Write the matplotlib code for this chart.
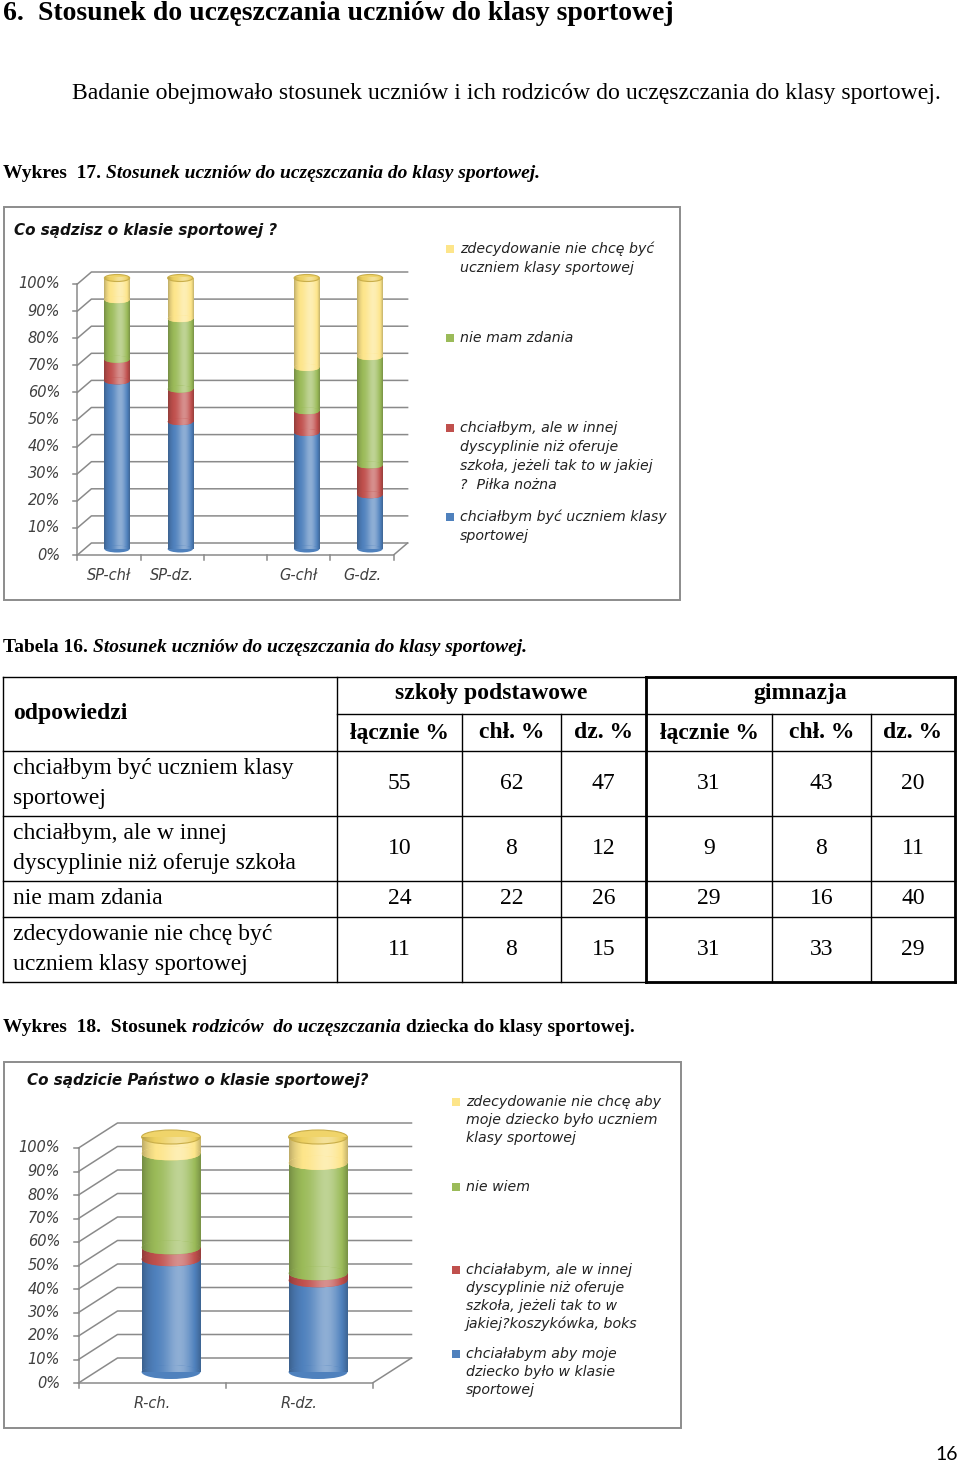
import numpy as np
import matplotlib
matplotlib.use("Agg")
import matplotlib.pyplot as plt
from matplotlib.patches import Rectangle, Ellipse

SERIF = "Liberation Serif"
CHART_FONT = "DejaVu Sans"

# --- data ---
chart1_groups = ["SP-chł", "SP-dz.", "", "G-chł", "G-dz."]
chart1_blue = [62, 47, None, 43, 20]
chart1_red = [8, 12, None, 8, 11]
chart1_green = [22, 26, None, 16, 40]
chart1_yellow = [8, 15, None, 33, 29]
chart1_legend = ["zdecydowanie nie chcę być\nuczniem klasy sportowej",
                 "nie mam zdania",
                 "chciałbym, ale w innej\ndyscyplinie niż oferuje\nszkoła, jeżeli tak to w jakiej\n?  Piłka nożna",
                 "chciałbym być uczniem klasy\nsportowej"]

chart2_groups = ["R-ch.", "R-dz."]
chart2_blue = [48, 39]
chart2_red = [5, 3]
chart2_green = [40, 47]
chart2_yellow = [7, 11]
chart2_legend = ["zdecydowanie nie chcę aby\nmoje dziecko było uczniem\nklasy sportowej",
                 "nie wiem",
                 "chciałabym, ale w innej\ndyscyplinie niż oferuje\nszkoła, jeżeli tak to w\njakiej?koszykówka, boks",
                 "chciałabym aby moje\ndziecko było w klasie\nsportowej"]

table_rows = ["chciałbym być uczniem klasy\nsportowej",
              "chciałbym, ale w innej\ndyscyplinie niż oferuje szkoła",
              "nie mam zdania",
              "zdecydowanie nie chcę być\nuczniem klasy sportowej"]
table_sub = ["łącznie %", "chł. %", "dz. %", "łącznie %", "chł. %", "dz. %"]
table_vals = [[55, 62, 47, 31, 43, 20],
              [10, 8, 12, 9, 8, 11],
              [24, 22, 26, 29, 16, 40],
              [11, 8, 15, 31, 33, 29]]

colors = {"blue": "#4F81BD", "red": "#C0504D", "green": "#9BBB59", "yellow": "#FDE58A"}

W, H = 960, 1463
fig = plt.figure(figsize=(W / 100, H / 100), dpi=100)
page = fig.add_axes([0, 0, 1, 1])
page.set_xlim(0, W)
page.set_ylim(H, 0)
page.axis("off")
renderer = fig.canvas.get_renderer()


def runs(x, y, parts, size, gap=5):
    # parts: list of (text, italic) drawn one after another in bold serif
    for txt, ital in parts:
        t = page.text(x, y, txt, fontsize=size, fontweight="bold",
                      style="italic" if ital else "normal", family=SERIF, va="center")
        bb = t.get_window_extent(renderer)
        x += bb.width + gap


def shade_colors(base, n=80):
    rgb = np.array(matplotlib.colors.to_rgb(base))
    t = np.linspace(0, 1, n)
    f = 0.36 * np.exp(-((t - 0.63) / 0.24) ** 2) - 0.25 * (2 * t - 1) ** 4
    out = np.zeros((1, n, 3))
    for i, v in enumerate(f):
        if v >= 0:
            out[0, i] = rgb + (1 - rgb) * v
        else:
            out[0, i] = rgb * (1 + v)
    return out


def fill_gradient(ax, patch, base, z):
    ax.add_patch(patch)
    patch.set_clip_on(False)
    bb = patch.get_extents()
    inv = ax.transData.inverted()
    (x0, y0), (x1, y1) = inv.transform([[bb.x0, bb.y0], [bb.x1, bb.y1]])
    im = ax.imshow(shade_colors(base), extent=[x0, x1, y0, y1], aspect="auto",
                   zorder=z + 0.01, interpolation="bilinear")
    im.set_clip_box(None)
    im.set_clip_path(patch)


def cylinder_chart(box, slots, labels, series, ppx, ppy, front, back, bw, eh,
                   title, title_xy, legend, leg_x, leg_y, leg_dy):
    page.add_patch(Rectangle((box[0], box[1]), box[2] - box[0], box[3] - box[1],
                             fill=False, ec="#8c8c8c", lw=1.4))
    page.text(title_xy[0], title_xy[1], title, fontsize=10.9, fontweight="bold",
              style="italic", family=CHART_FONT, va="center", color="#111111")
    x0px, y0px = slots
    n = len(labels)
    ax = fig.add_axes([x0px / W, (H - y0px) / H, n * ppx / W, 100 * ppy / H])
    ax.set_xlim(-0.5, n - 0.5)
    ax.set_ylim(0, 100)
    ax.axis("off")
    fdx, fdy = front[0] / ppx, -front[1] / ppy
    bdx, bdy = back[0] / ppx, back[1] / ppy
    gc = "#8a8a8a"
    L, R = -0.5, n - 0.5
    lab_x = (60 - x0px) / ppx - 0.5
    for v in range(0, 101, 10):
        ax.plot([L + fdx, L + bdx, R + bdx], [v + fdy, v + bdy, v + bdy],
                color=gc, lw=1.1, clip_on=False, zorder=1)
        ax.text(lab_x, v + fdy, f"{v}%", ha="right", va="center",
                fontsize=10.5, style="italic", family=CHART_FONT, color="#404040")
        ax.plot([L + fdx - 4 / ppx, L + fdx], [v + fdy, v + fdy], color=gc, lw=1.1,
                clip_on=False)
    ax.plot([L + fdx, R + fdx, R + bdx], [fdy, fdy, bdy], color=gc, lw=1.1,
            clip_on=False, zorder=1)
    ax.plot([L + fdx, L + fdx], [fdy, 100 + fdy], color=gc, lw=1.1, clip_on=False, zorder=1)
    for k in range(n + 1):
        xk = -0.5 + k + fdx
        ax.plot([xk, xk], [fdy, fdy - 5 / ppy], color=gc, lw=1.1, clip_on=False)
    for i, lab in enumerate(labels):
        ax.text(i + fdx, fdy - 20 / ppy, lab, ha="center", va="center", fontsize=10.5,
                style="italic", family=CHART_FONT, color="#404040")

    eh_d = eh / ppy
    names = ["blue", "red", "green", "yellow"]
    for i in range(n):
        if series[0][i] is None:
            continue
        bottom = 0
        for s, name in enumerate(names):
            val = series[s][i]
            z = 3 + s
            bar = ax.bar(i, val, bw, bottom=bottom, color=colors[name], lw=0, zorder=z)[0]
            bar.remove()
            fill_gradient(ax, bar, colors[name], z)
            ell = Ellipse((i, bottom), bw, eh_d, color=colors[name], lw=0, zorder=z + 0.5)
            fill_gradient(ax, ell, colors[name], z + 0.5)
            bottom += val
        rim = Ellipse((i, bottom), bw, eh_d, fill=False, ec="#C9AE4A", lw=0.8, zorder=8.5)
        rim.set_clip_on(False)
        cap = Ellipse((i, bottom), bw, eh_d, color="#F0D46A", lw=0, zorder=8)
        fill_gradient(ax, cap, "#EDD060", 8)
        ax.add_patch(rim)
    ax.set_xlim(-0.5, n - 0.5)
    ax.set_ylim(0, 100)

    leg_colors = [colors["yellow"], colors["green"], colors["red"], colors["blue"]]
    for txt, c, ly in zip(legend, leg_colors, leg_y):
        page.add_patch(Rectangle((leg_x - 14, ly - 4), 8, 8, color=c, lw=0))
        for j, line in enumerate(txt.split("\n")):
            page.text(leg_x, ly + j * leg_dy, line, fontsize=10.2, style="italic",
                      family=CHART_FONT, va="center", color="#222222")
    return ax


# --- document text ---
page.text(3, 13, "6.", fontsize=20, fontweight="bold", family=SERIF, va="center")
page.text(38, 13, "Stosunek do uczęszczania uczniów do klasy sportowej", fontsize=20,
          fontweight="bold", family=SERIF, va="center")
page.text(72, 93, "Badanie obejmowało stosunek uczniów i ich rodziców do uczęszczania do klasy sportowej.",
          fontsize=17.1, family=SERIF, va="center")
runs(3, 173, [("Wykres  17.", False), ("Stosunek uczniów do uczęszczania do klasy sportowej.", True)], 14)

cylinder_chart((4, 207, 680, 600), (85.4, 549), chart1_groups,
               [chart1_blue, chart1_red, chart1_green, chart1_yellow],
               63.24, 2.71, (-8, 6), (6, 6), 0.4, 7,
               "Co sądzisz o klasie sportowej ?", (14, 230), chart1_legend,
               460, [249, 338, 428, 517], 19)

runs(3, 648, [("Tabela 16.", False), ("Stosunek uczniów do uczęszczania do klasy sportowej.", True)], 14)

# --- table ---
col_x = [3, 337, 462, 561, 646, 772, 871, 955]
row_y = [677, 714, 751, 816, 881, 917, 982]
lk = dict(color="black", lw=1.0)
page.plot([3, 955], [677, 677], **lk)
page.plot([337, 955], [714, 714], **lk)
for y in row_y[2:]:
    page.plot([3, 955], [y, y], **lk)
page.plot([3, 3], [677, 982], **lk)
for x in col_x[1:]:
    top = 677 if x in (337, 646, 955) else 714
    page.plot([x, x], [top, 982], **lk)
for seg in ([[646, 955], [677, 677]], [[646, 646], [677, 982]], [[955, 955], [677, 982]],
            [[646, 955], [982, 982]]):
    page.plot(seg[0], seg[1], color="black", lw=2.0)

TFS = 17
page.text(13, 714, "odpowiedzi", fontsize=TFS, fontweight="bold", family=SERIF, va="center")
page.text((337 + 646) / 2, 694, "szkoły podstawowe", fontsize=TFS, fontweight="bold",
          family=SERIF, ha="center", va="center")
page.text((646 + 955) / 2, 694, "gimnazja", fontsize=TFS, fontweight="bold",
          family=SERIF, ha="center", va="center")
for k, sub in enumerate(table_sub):
    page.text((col_x[k + 1] + col_x[k + 2]) / 2, 733, sub, fontsize=TFS, fontweight="bold",
              family=SERIF, ha="center", va="center")
for r, (lab, vals) in enumerate(zip(table_rows, table_vals)):
    yt, yb = row_y[r + 2], row_y[r + 3]
    lines = lab.split("\n")
    yc = (yt + yb) / 2
    for j, line in enumerate(lines):
        page.text(13, yc + (j - (len(lines) - 1) / 2) * 30, line, fontsize=TFS,
                  family=SERIF, va="center")
    for k, v in enumerate(vals):
        page.text((col_x[k + 1] + col_x[k + 2]) / 2, yc, str(v), fontsize=TFS,
                  family=SERIF, ha="center", va="center")

runs(3, 1028, [("Wykres  18.  Stosunek", False), ("rodziców  do uczęszczania", True),
               ("dziecka do klasy sportowej.", False)], 14)

cylinder_chart((4, 1062, 681, 1428), (97.5, 1372), chart2_groups,
               [chart2_blue, chart2_red, chart2_green, chart2_yellow],
               147, 2.35, (-19, 11), (20, 14), 0.4, 14,
               "Co sądzicie Państwo o klasie sportowej?", (27, 1080), chart2_legend,
               466, [1102, 1187, 1270, 1354], 18)

page.text(958, 1455, "16", fontsize=14, family="Lato", ha="right", va="center")

fig.savefig("out.png", dpi=100)
